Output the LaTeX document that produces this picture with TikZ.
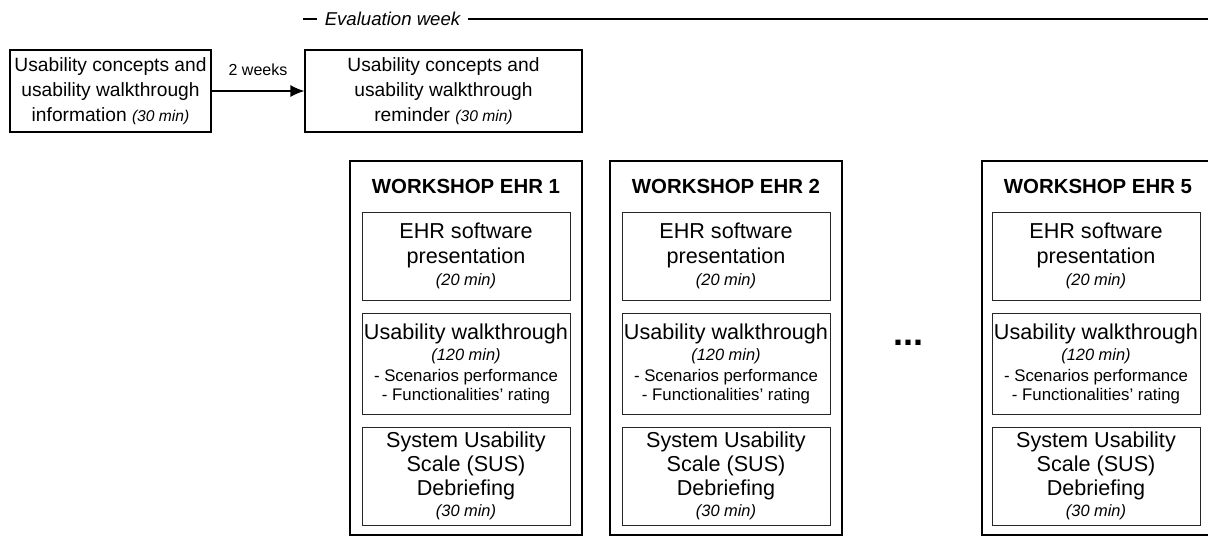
\documentclass[tikz,border=0pt]{standalone}
\usepackage{fontspec}
\setmainfont{Liberation Sans}
\usepackage{tikz}
\usetikzlibrary{positioning}
\usetikzlibrary{arrows.meta}
\tikzset{>={Latex[width=6pt,length=7pt]}}
\newcommand{\durtext}[1]{{\fontsize{8.2}{9}\selectfont\itshape(#1)}}
\newcommand{\subtext}[1]{{\fontsize{8.4}{10}\selectfont #1}}

\begin{document}
\begin{tikzpicture}[x=0.5pt, y=-0.5pt, node distance=6pt, node/.style={draw=black, line width=0.6pt, align=center, inner sep=0pt, font=\fontsize{9.6}{12.5}\selectfont}, wsbox/.style={draw=black, line width=1pt, minimum width=116pt, minimum height=187pt}, inbox/.style={draw=black!85, line width=0.5pt, minimum width=104pt, align=center, inner sep=0pt, font=\fontsize{10.8}{12}\selectfont}, title/.style={draw=none, font=\fontsize{10.2}{12}\selectfont\bfseries}, emptynode/.style={draw=none, fill=none, inner sep=3.5pt}]

    \useasboundingbox (0,0) rectangle (1208,537);

    %Nodes
    \node[emptynode, font=\fontsize{9.3}{11}\selectfont\itshape](evalweek) at (392.5,19){Evaluation week};
    \coordinate (evalstart) at (303,19);
    \coordinate (evalend) at (1208,19);
    \node[node, minimum width=100.5pt, minimum height=41pt](info) at (110.5,91){Usability concepts and\\usability walkthrough\\information {\fontsize{7.8}{9}\selectfont\itshape(30 min)}};
    \node[node, minimum width=138.5pt, minimum height=41pt](reminder) at (443.5,91){Usability concepts and\\usability walkthrough\\reminder {\fontsize{7.8}{9}\selectfont\itshape(30 min)}};

    \node[wsbox](ws1) at (466,348){};
    \node[title](title1) at (466,186){WORKSHOP EHR 1};
    \node[inbox, minimum height=44pt](present1) at (466,256){EHR software\\[0.5pt]presentation\\[-1pt]\durtext{20 min}};
    \node[inbox, minimum height=50.5pt](walk1)[below=of present1]{Usability walkthrough\\[-1.5pt]\durtext{120 min}\\[-1.5pt]\subtext{- Scenarios performance}\\[-2.5pt]\subtext{- Functionalities’ rating}};
    \node[inbox, minimum height=49pt](sus1)[below=of walk1]{System Usability\\Scale (SUS)\\Debriefing\\[-1.5pt]\durtext{30 min}};

    \node[wsbox](ws2) at (726,348){};
    \node[title](title2) at (726,186){WORKSHOP EHR 2};
    \node[inbox, minimum height=44pt](present2) at (726,256){EHR software\\[0.5pt]presentation\\[-1pt]\durtext{20 min}};
    \node[inbox, minimum height=50.5pt](walk2)[below=of present2]{Usability walkthrough\\[-1.5pt]\durtext{120 min}\\[-1.5pt]\subtext{- Scenarios performance}\\[-2.5pt]\subtext{- Functionalities’ rating}};
    \node[inbox, minimum height=49pt](sus2)[below=of walk2]{System Usability\\Scale (SUS)\\Debriefing\\[-1.5pt]\durtext{30 min}};

    \node[emptynode, anchor=base, font=\fontsize{18}{18}\selectfont\bfseries](dots) at (908,345){...};

    \node[wsbox](ws5) at (1098,348){};
    \node[title](title5) at (1098,186){WORKSHOP EHR 5};
    \node[inbox, minimum height=44pt](present5) at (1096,256){EHR software\\[0.5pt]presentation\\[-1pt]\durtext{20 min}};
    \node[inbox, minimum height=50.5pt](walk5)[below=of present5]{Usability walkthrough\\[-1.5pt]\durtext{120 min}\\[-1.5pt]\subtext{- Scenarios performance}\\[-2.5pt]\subtext{- Functionalities’ rating}};
    \node[inbox, minimum height=49pt](sus5)[below=of walk5]{System Usability\\Scale (SUS)\\Debriefing\\[-1.5pt]\durtext{30 min}};

    %Lines
    \draw[line width=0.7pt] (evalstart) -- (evalweek);
    \draw[line width=0.7pt] (evalweek) -- (evalend);
    \draw[->, line width=0.6pt] (info) -- node[above=4pt, font=\fontsize{8}{10}\selectfont]{2 weeks} (reminder);

\end{tikzpicture}
\end{document}
